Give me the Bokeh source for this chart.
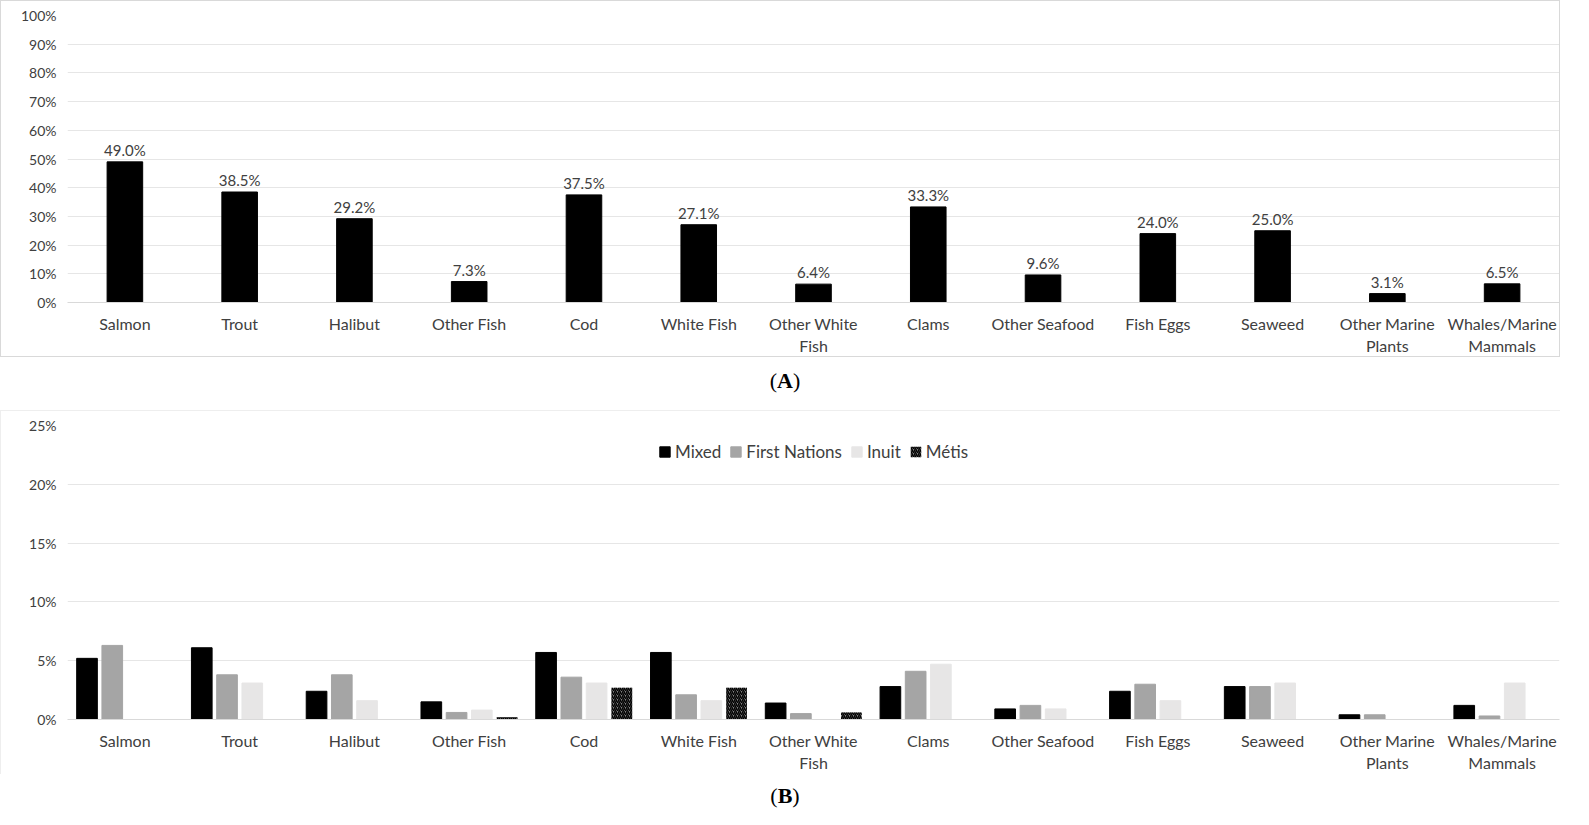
from bokeh.plotting import figure
from bokeh.models import ColumnDataSource, NumeralTickFormatter, Div, FixedTicker, Legend, LegendItem, Range1d
from bokeh.layouts import column
from bokeh.transform import dodge
from bokeh.embed import file_html
from bokeh.resources import INLINE
from bokeh.core.properties import value

categories = ["Salmon", "Trout", "Halibut", "Other Fish", "Cod", "White Fish", "Other White\nFish",
              "Clams", "Other Seafood", "Fish Eggs", "Seaweed", "Other Marine\nPlants", "Whales/Marine\nMammals"]
total = [49.0, 38.5, 29.2, 7.3, 37.5, 27.1, 6.4, 33.3, 9.6, 24.0, 25.0, 3.1, 6.5]
mixed = [5.2, 6.1, 2.4, 1.5, 5.7, 5.7, 1.4, 2.8, 0.9, 2.4, 2.8, 0.4, 1.2]
first_nations = [6.3, 3.8, 3.8, 0.6, 3.6, 2.1, 0.5, 4.1, 1.2, 3.0, 2.8, 0.4, 0.3]
inuit = [0.0, 3.1, 1.6, 0.8, 3.1, 1.6, 0.0, 4.7, 0.9, 1.6, 3.1, 0.0, 3.1]
metis = [0.0, 0.0, 0.0, 0.2, 2.7, 2.7, 0.6, 0.0, 0.0, 0.0, 0.0, 0.0, 0.0]

FONT = "Lato"
TXT = "#404040"
W = 1560

def style(p, ticks, fmt):
    p.yaxis.ticker = FixedTicker(ticks=ticks)
    p.yaxis.formatter = NumeralTickFormatter(format=fmt)
    for ax in (p.xaxis, p.yaxis):
        ax.major_label_text_font = FONT
        ax.major_label_text_color = TXT
        ax.axis_line_color = None
        ax.major_tick_line_color = None
        ax.minor_tick_line_color = None
    p.xaxis.axis_line_color = "#d9d9d9"
    p.xaxis.major_label_text_font_size = "16px"
    p.yaxis.major_label_text_font_size = "14px"
    p.xgrid.grid_line_color = None
    p.ygrid.grid_line_color = "#e6e6e6"
    p.outline_line_color = None
    p.x_range.range_padding = 0.0

# Panel A
srcA = ColumnDataSource(dict(cat=categories, val=[v / 100 for v in total],
                             lab=[f"{v:.1f}%" for v in total]))
pA = figure(x_range=categories, width=W, height=357, output_backend="svg", toolbar_location=None,
            y_range=Range1d(0, 1.0), min_border_left=66, min_border_right=2, min_border_top=14)
pA.vbar(x="cat", top="val", width=0.31, source=srcA, fill_color="black", line_color="black")
pA.text(x="cat", y="val", text="lab", source=srcA, text_align="center", text_baseline="bottom",
        y_offset=-3, text_font=value(FONT), text_font_size="15px", text_color=TXT)
style(pA, [i / 10 for i in range(11)], "0%")
pA.styles = {"border": "1px solid #d9d9d9"}

divA = Div(text="(<b>A</b>)", width=W, height=40,
           styles={"text-align": "center", "font-family": "Liberation Serif", "font-size": "22px",
                   "width": f"{W}px", "margin-top": "8px"})

# Panel B
srcB = ColumnDataSource(dict(cat=categories, m=[v / 100 for v in mixed], f=[v / 100 for v in first_nations],
                             i=[v / 100 for v in inuit], t=[v / 100 for v in metis]))
pB = figure(x_range=categories, width=W, height=364, output_backend="svg", toolbar_location=None,
            y_range=Range1d(0, 0.25), min_border_left=66, min_border_right=2, min_border_top=14)
w = 0.18
r1 = pB.vbar(x=dodge("cat", -0.33, range=pB.x_range), top="m", width=w, source=srcB, fill_color="black", line_color="black")
r2 = pB.vbar(x=dodge("cat", -0.11, range=pB.x_range), top="f", width=w, source=srcB, fill_color="#a5a5a5", line_color="#a5a5a5")
r3 = pB.vbar(x=dodge("cat", 0.11, range=pB.x_range), top="i", width=w, source=srcB, fill_color="#e7e6e6", line_color="#e7e6e6")
r4 = pB.vbar(x=dodge("cat", 0.33, range=pB.x_range), top="t", width=w, source=srcB, fill_color="#7f7f7f",
             line_color=None, hatch_pattern="right_diagonal_line", hatch_color="black", hatch_scale=4, hatch_weight=1.5)
style(pB, [0, 0.05, 0.10, 0.15, 0.20, 0.25], "0%")
leg = Legend(items=[LegendItem(label="Mixed", renderers=[r1]), LegendItem(label="First Nations", renderers=[r2]),
                    LegendItem(label="Inuit", renderers=[r3]), LegendItem(label="Métis", renderers=[r4])],
             orientation="horizontal", location="top_center", border_line_color=None, background_fill_alpha=0,
             label_text_font=FONT, label_text_font_size="17px", label_text_color=TXT,
             glyph_width=13, glyph_height=13, spacing=8, label_standoff=4, margin=16)
pB.add_layout(leg, "center")
pB.styles = {"border-top": "1px solid #eeeeee", "border-left": "1px solid #eeeeee"}

divB = Div(text="(<b>B</b>)", width=W, height=36,
           styles={"text-align": "center", "font-family": "Liberation Serif", "font-size": "22px",
                   "width": f"{W}px", "margin-top": "6px"})

layout = column(pA, divA, pB, divB, spacing=0)
open("out.html", "w").write(file_html(layout, INLINE))
